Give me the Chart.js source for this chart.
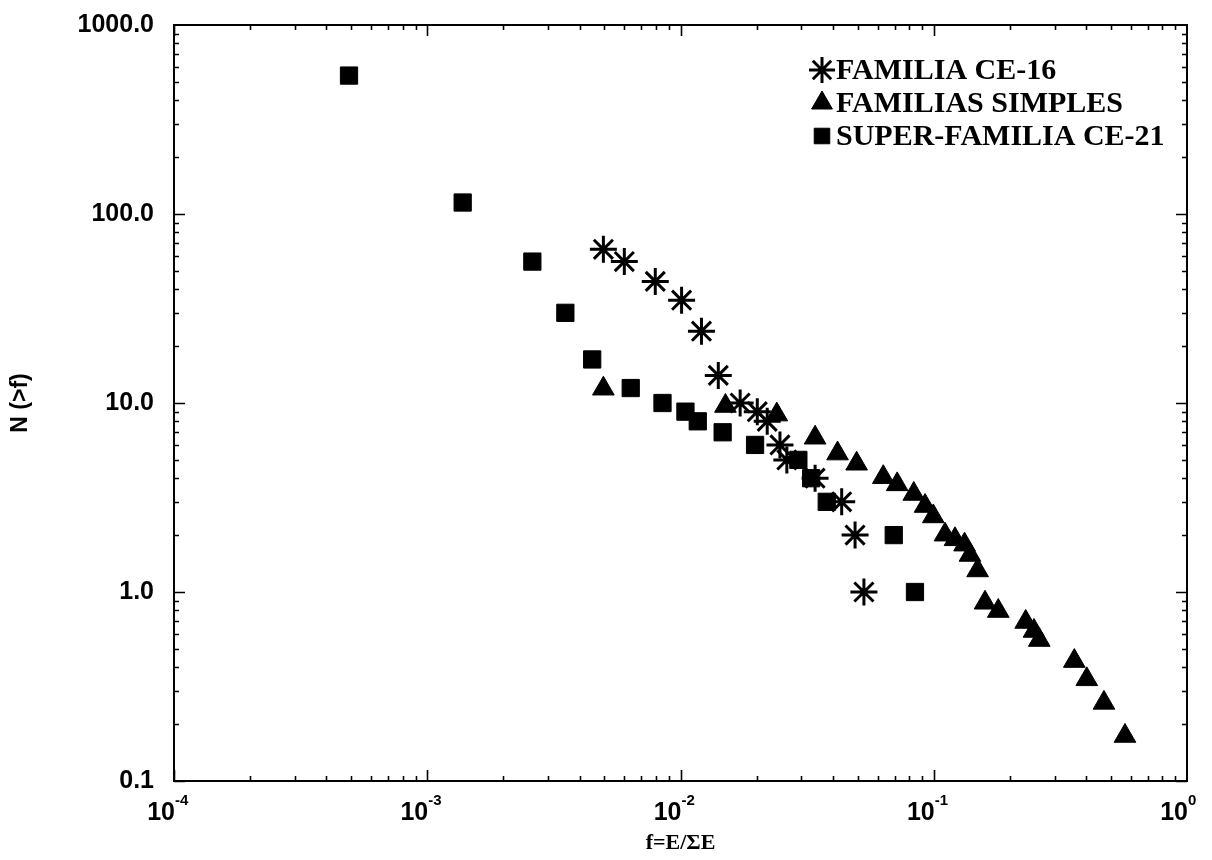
<!DOCTYPE html>
<html>
<head>
<meta charset="utf-8">
<script src="https://cdn.jsdelivr.net/npm/chart.js@4.4.0/dist/chart.umd.min.js"></script>
<style>
  html, body { margin: 0; padding: 0; background: #ffffff; }
  #wrap { width: 1212px; height: 860px; }
</style>
</head>
<body>
<div id="wrap"><canvas id="chart" width="1212" height="860"></canvas></div>
<script>
// Series names (legend order)
const seriesNames = ['FAMILIA CE-16', 'FAMILIAS SIMPLES', 'SUPER-FAMILIA CE-21'];

// FAMILIA CE-16
const ce16F = [4.96e-3, 6.0e-3, 7.95e-3, 1.01e-2, 1.21e-2, 1.41e-2, 1.72e-2, 2.01e-2, 2.20e-2, 2.47e-2, 2.63e-2, 3.40e-2, 4.33e-2, 4.89e-2, 5.30e-2];
const ce16N = [65, 56, 44, 35, 24, 14, 10, 9, 8, 6, 5, 4, 3, 2, 1];

// FAMILIAS SIMPLES
const simplesF = [4.96e-3, 1.505e-2, 2.40e-2, 3.40e-2, 4.17e-2, 4.96e-2, 6.32e-2, 7.17e-2, 8.34e-2, 9.24e-2, 9.96e-2, 0.1108, 0.1213, 0.1323, 0.139, 0.149, 0.1594, 0.1798, 0.2307, 0.2488, 0.261, 0.359, 0.402, 0.470, 0.569];
const simplesN = [11.9, 9.64, 8.68, 6.55, 5.4, 4.77, 4.05, 3.71, 3.3, 2.85, 2.51, 2.01, 1.9, 1.78, 1.57, 1.3, 0.877, 0.793, 0.694, 0.622, 0.557, 0.431, 0.345, 0.259, 0.173];

// SUPER-FAMILIA CE-21
const ce21F = [4.91e-4, 1.38e-3, 2.60e-3, 3.51e-3, 4.48e-3, 6.36e-3, 8.49e-3, 1.046e-2, 1.17e-2, 1.467e-2, 1.97e-2, 2.92e-2, 3.28e-2, 3.78e-2, 6.95e-2, 8.43e-2];
const ce21N = [540, 115, 56, 30, 17, 12, 10, 9, 8, 7, 6, 5, 4, 3, 2, 1];

// Axis ticks
const xTickExponents = [-4, -3, -2, -1, 0];
const yTickValues = [0.1, 1, 10, 100, 1000];
const yTickLabels = ['0.1', '1.0', '10.0', '100.0', '1000.0'];
const xTitle = 'f=E/\u03A3E';
const yTitle = 'N (>f)';

const toPoints = (xs, ys) => xs.map((x, i) => ({ x: x, y: ys[i] }));

// Frame with inward major/minor log ticks on all four sides, plus 10^n labels
const frameTicks = {
  id: 'frameTicks',
  beforeDatasetsDraw(chart) {
    const { ctx, chartArea: a } = chart;
    const xs = chart.scales.x, ys = chart.scales.y;
    ctx.save();
    ctx.strokeStyle = '#000';
    ctx.lineWidth = 2;
    ctx.strokeRect(a.left, a.top, a.right - a.left, a.bottom - a.top);
    ctx.lineWidth = 1.6;
    ctx.beginPath();
    for (let k = -4; k < 0; k++) {
      for (let m = 1; m <= 9; m++) {
        const px = Math.round(xs.getPixelForValue(m * Math.pow(10, k))) + 0.5;
        const len = m === 1 ? 11 : 5;
        ctx.moveTo(px, a.bottom); ctx.lineTo(px, a.bottom - len);
        ctx.moveTo(px, a.top); ctx.lineTo(px, a.top + len);
      }
    }
    for (let k = -1; k < 3; k++) {
      for (let m = 1; m <= 9; m++) {
        const py = Math.round(ys.getPixelForValue(m * Math.pow(10, k))) + 0.5;
        const len = m === 1 ? 11 : 5;
        ctx.moveTo(a.left, py); ctx.lineTo(a.left + len, py);
        ctx.moveTo(a.right, py); ctx.lineTo(a.right - len, py);
      }
    }
    ctx.stroke();

    // x tick labels: base "10" ends at the tick, exponent starts at it
    ctx.fillStyle = '#000';
    ctx.textBaseline = 'alphabetic';
    xTickExponents.forEach(e => {
      const px = xs.getPixelForValue(Math.pow(10, e));
      ctx.font = 'bold 25px "Liberation Sans", Arial, sans-serif';
      ctx.textAlign = 'right';
      ctx.fillText('10', px + 1, a.bottom + 39);
      ctx.font = 'bold 15px "Liberation Sans", Arial, sans-serif';
      ctx.textAlign = 'left';
      ctx.fillText(String(e), px + 1, a.bottom + 24);
    });
    ctx.restore();
  }
};

// Legend drawn inside the plot, top right
const insideLegend = {
  id: 'insideLegend',
  afterDatasetsDraw(chart) {
    const { ctx } = chart;
    const markerX = 822, textX = 836, rowY = [70, 103, 136];
    ctx.save();
    chart.data.datasets.forEach((ds, i) => {
      ctx.fillStyle = '#000';
      ctx.strokeStyle = '#000';
      ctx.lineWidth = ds.pointBorderWidth;
      Chart.helpers.drawPoint(ctx, {
        pointStyle: ds.pointStyle,
        radius: ds.legendRadius,
        rotation: 0,
        borderWidth: ds.pointBorderWidth
      }, markerX, rowY[i]);
      ctx.font = 'bold 30px "Liberation Serif", "Times New Roman", serif';
      ctx.textAlign = 'left';
      ctx.textBaseline = 'middle';
      ctx.fillText(ds.label, textX, rowY[i] + 1);
    });
    ctx.restore();
  }
};

new Chart(document.getElementById('chart'), {
  type: 'scatter',
  data: {
    datasets: [
      {
        label: seriesNames[0],
        data: toPoints(ce16F, ce16N),
        pointStyle: 'star',
        pointRadius: 13.5,
        pointHoverRadius: 13.5,
        pointBorderWidth: 3,
        legendRadius: 13,
        borderColor: '#000',
        backgroundColor: '#000'
      },
      {
        label: seriesNames[1],
        data: toPoints(simplesF, simplesN),
        pointStyle: 'triangle',
        pointRadius: 12.5,
        pointHoverRadius: 12.5,
        pointBorderWidth: 1,
        legendRadius: 12,
        borderColor: '#000',
        backgroundColor: '#000'
      },
      {
        label: seriesNames[2],
        data: toPoints(ce21F, ce21N),
        pointStyle: 'rect',
        pointRadius: 12.2,
        pointHoverRadius: 12.2,
        pointBorderWidth: 1,
        legendRadius: 11,
        borderColor: '#000',
        backgroundColor: '#000'
      }
    ]
  },
  options: {
    responsive: false,
    animation: false,
    devicePixelRatio: 1,
    layout: { padding: { left: 0, top: 25, right: 25, bottom: 0 } },
    plugins: {
      legend: { display: false },
      tooltip: { enabled: false }
    },
    scales: {
      x: {
        type: 'logarithmic',
        position: 'bottom',
        min: 1e-4,
        max: 1,
        grid: { display: false },
        border: { display: false },
        ticks: { display: false },
        afterBuildTicks: (s) => { s.ticks = xTickExponents.map(e => ({ value: Math.pow(10, e) })); },
        afterFit: (s) => { s.height = 79; s.paddingLeft = 0; s.paddingRight = 0; },
        title: {
          display: true,
          text: xTitle,
          color: '#000',
          font: { family: '"Liberation Serif", "Times New Roman", serif', size: 22, weight: 'bold' },
          padding: { top: 0, bottom: 3 }
        }
      },
      y: {
        type: 'logarithmic',
        position: 'left',
        min: 0.1,
        max: 1000,
        grid: { display: false, drawTicks: false },
        border: { display: false },
        ticks: {
          color: '#000',
          padding: 20,
          autoSkip: false,
          font: { family: '"Liberation Sans", Arial, sans-serif', size: 25, weight: 'bold' },
          callback: (v, i) => yTickLabels[i]
        },
        afterBuildTicks: (s) => { s.ticks = yTickValues.map(v => ({ value: v })); },
        afterFit: (s) => { s.width = 174; s.paddingTop = 0; s.paddingBottom = 0; },
        title: {
          display: true,
          text: yTitle,
          color: '#000',
          font: { family: '"Liberation Sans", Arial, sans-serif', size: 23, weight: 'bold' },
          padding: { top: 7, bottom: 0 }
        }
      }
    }
  },
  plugins: [frameTicks, insideLegend]
});
</script>
</body>
</html>
